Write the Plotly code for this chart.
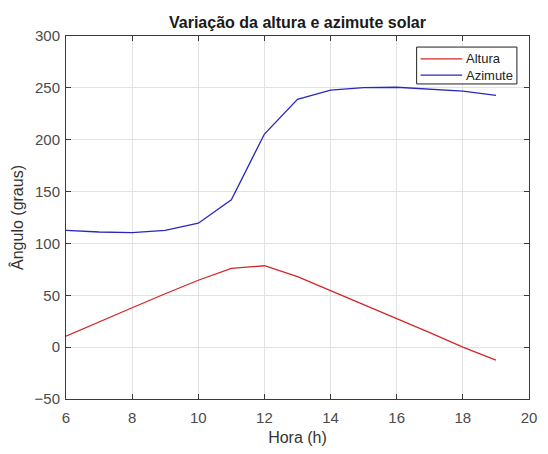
import plotly.graph_objects as go

hora = [6, 7, 8, 9, 10, 11, 12, 13, 14, 15, 16, 17, 18, 19]
altura = [10.5, 24.5, 38, 51.5, 64.5, 76, 78.5, 68, 54.7, 41.3, 27.5, 14, 0, -12.5]
azimute = [112.5, 111, 110.5, 112.5, 119.5, 142, 205.5, 239, 247.8, 250.3, 250.6, 249, 246.9, 242.8]

series_names = ["Altura", "Azimute"]
series_colors = ["rgb(212,38,38)", "rgb(40,40,190)"]

titulo = "Variação da altura e azimute solar"
x_label = "Hora (h)"
y_label = "Ângulo (graus)"

FONT = "Liberation Sans, Arial, sans-serif"
AXC = "#3a3a3a"

fig = go.Figure()
for name, ys, col in zip(series_names, [altura, azimute], series_colors):
    fig.add_trace(go.Scatter(x=hora, y=ys, mode="lines", name=name,
                             line=dict(color=col, width=1.3), showlegend=False))

axis_common = dict(
    showline=True, linecolor=AXC, linewidth=1, mirror="ticks",
    ticks="inside", ticklen=5, tickcolor=AXC, tickwidth=1,
    showgrid=True, gridcolor="#e2e2e2", gridwidth=1,
    zeroline=False,
    tickfont=dict(family=FONT, size=15, color="#4a4a4a"),
)

fig.update_layout(
    width=548, height=454,
    margin=dict(l=66, r=11, t=36, b=47),
    paper_bgcolor="white", plot_bgcolor="white",
    title=dict(text="<b>" + titulo + "</b>", xref="paper", x=0.5, xanchor="center",
               y=1 - 22 / 454, yanchor="middle",
               font=dict(family=FONT, size=16, color="#1a1a1a")),
    xaxis=dict(range=[6, 20], dtick=2, tick0=6,
               ticklabelstandoff=5,
               title=dict(text=x_label, standoff=6,
                          font=dict(family=FONT, size=16, color="#333333")),
               **axis_common),
    yaxis=dict(range=[-50, 300], dtick=50, tick0=0,
               ticklabelstandoff=2,
               title=dict(text=y_label, standoff=6,
                          font=dict(family=FONT, size=16, color="#333333")),
               **axis_common),
    showlegend=False,
)

# Legend box drawn in MATLAB style (inside top-right of the axes)
box = dict(x0=0.7573, x1=0.9739, y0=0.8679, y1=0.9695)
fig.add_shape(type="rect", xref="paper", yref="paper", **box,
              line=dict(color="#222222", width=1), fillcolor="white", layer="above")
row_y = [0.9372, 0.8922]
for name, col, yy in zip(series_names, series_colors, row_y):
    fig.add_shape(type="line", xref="paper", yref="paper",
                  x0=0.7658, x1=0.8556, y0=yy, y1=yy,
                  line=dict(color=col, width=1.3), layer="above")
    fig.add_annotation(x=0.8600, y=yy, xref="paper", yref="paper",
                       text=name, showarrow=False, xanchor="left", yanchor="middle",
                       font=dict(family=FONT, size=13, color="#222222"))

fig.write_html("out.html", config={"displayModeBar": False},
               post_script="document.body.style.margin='0';document.body.style.overflow='hidden';")
